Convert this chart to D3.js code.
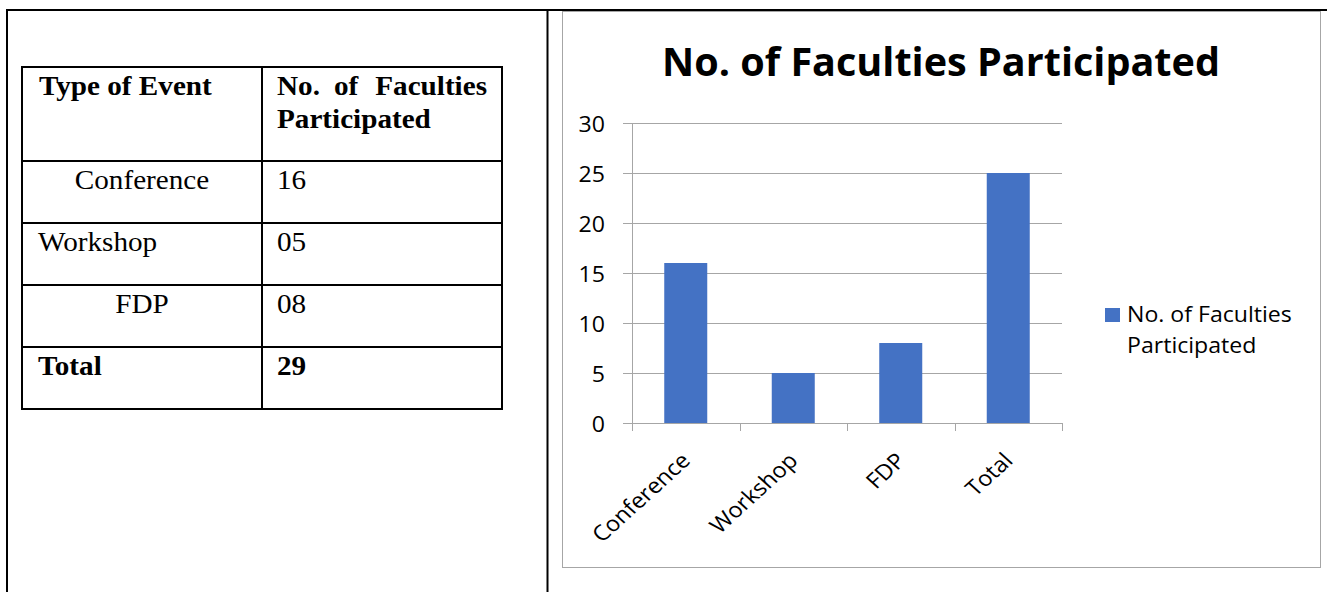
<!DOCTYPE html>
<html><head><meta charset="utf-8">
<script src="https://cdn.jsdelivr.net/npm/d3@7"></script>
<style>html,body{margin:0;padding:0;background:#fff;overflow:hidden}</style>
</head><body>
<svg id="c" width="1327" height="592"></svg>
<script>
// ---- data ----
const categories = ["Conference", "Workshop", "FDP", "Total"];
const values = [16, 5, 8, 25];
const yTicks = [0, 5, 10, 15, 20, 25, 30];
const chartTitle = "No. of Faculties Participated";
const seriesName = ["No. of Faculties", "Participated"];
const tableHeaderLeft = "Type of Event";
const tableHeaderRight = [["No.", "of", "Faculties"], ["Participated"]];
const tableEvents = ["Conference", "Workshop", "FDP", "Total"];
const tableCounts = ["16", "05", "08", "29"];

// ---- helpers ----
const svg = d3.select("#c");
function stext(g, str, x, y, opts) {
  const sx = opts.sx || 1.1, rot = opts.rot || 0;
  return g.append("text")
    .attr("transform", `translate(${x},${y}) scale(${sx},1) rotate(${rot})`)
    .attr("font-family", opts.family)
    .attr("font-size", opts.size)
    .attr("font-weight", opts.weight || "normal")
    .attr("text-anchor", opts.anchor || "start")
    .attr("dominant-baseline", opts.baseline || "auto")
    .attr("fill", "#000")
    .text(str);
}

// ---- page frame ----
const frame = svg.append("g").attr("stroke", "#000").attr("stroke-width", 2);
frame.append("line").attr("x1", 6).attr("x2", 1327).attr("y1", 10).attr("y2", 10);
frame.append("line").attr("x1", 7).attr("x2", 7).attr("y1", 9).attr("y2", 592);
frame.append("line").attr("x1", 547.5).attr("x2", 547.5).attr("y1", 9).attr("y2", 592);

// ---- left table ----
const tbl = svg.append("g");
const tX0 = 22, tX1 = 262, tX2 = 502;
const headTop = 67, headBottom = 161, rowH = 62;
const rowTops = tableEvents.map((_, i) => headBottom + i * rowH);
const tBottom = headBottom + tableEvents.length * rowH;
const tl = tbl.append("g").attr("stroke", "#000").attr("stroke-width", 2).attr("fill", "none");
tl.append("rect").attr("x", tX0).attr("y", headTop).attr("width", tX2 - tX0).attr("height", tBottom - headTop);
tl.append("line").attr("x1", tX1).attr("x2", tX1).attr("y1", headTop).attr("y2", tBottom);
rowTops.forEach(t => tl.append("line").attr("x1", tX0).attr("x2", tX2).attr("y1", t).attr("y2", t));

const serif = "'Liberation Serif','Times New Roman',serif";
const tOpt = {family: serif, size: 27, sx: 1.08};
stext(tbl, tableHeaderLeft, 39, headTop + 28, {...tOpt, weight: "bold"});
// justified header words: first at left edge, last flush right
const hdrPos = [[277, "start"], [334, "start"], [487, "end"]];
tableHeaderRight[0].forEach((w, i) => stext(tbl, w, hdrPos[i][0], headTop + 28, {...tOpt, weight: "bold", anchor: hdrPos[i][1]}));
stext(tbl, tableHeaderRight[1][0], 277, headTop + 61, {...tOpt, weight: "bold"});
const leftAlign = ["middle", "start", "middle", "start"];
tableEvents.forEach((ev, i) => {
  const bold = i === tableEvents.length - 1;
  const anchor = leftAlign[i];
  const x = anchor === "middle" ? (tX0 + tX1) / 2 : 38;
  stext(tbl, ev, x, rowTops[i] + 28, {...tOpt, anchor, weight: bold ? "bold" : "normal"});
  stext(tbl, tableCounts[i], 277, rowTops[i] + 28, {...tOpt, weight: bold ? "bold" : "normal"});
});

// ---- chart panel ----
const panel = svg.append("g");
panel.append("rect").attr("x", 562.5).attr("y", 11.5).attr("width", 758).attr("height", 556)
  .attr("fill", "#fff").attr("stroke", "#a6a6a6").attr("stroke-width", 1);

const sans = "'Open Sans','Noto Sans',sans-serif";
const cOpt = {family: sans, size: 21, sx: 1.1};

const plotL = 632, plotR = 1062, plotT = 123, plotB = 423;
const x = d3.scaleBand().domain(categories).range([plotL, plotR]).paddingInner(0.6).paddingOuter(0.3);
const y = d3.scaleLinear().domain([0, 30]).range([plotB, plotT]);

// title
stext(panel, chartTitle, 941, 76, {family: sans, size: 39, weight: "bold", anchor: "middle", sx: 1.015});

// gridlines
const grid = panel.append("g").attr("stroke", "#a6a6a6").attr("stroke-width", 1);
yTicks.forEach(t => {
  const yy = Math.round(y(t)) + 0.5;
  grid.append("line").attr("x1", plotL - 9).attr("x2", plotR).attr("y1", yy).attr("y2", yy);
});
// y axis line
grid.append("line").attr("x1", plotL + 0.5).attr("x2", plotL + 0.5).attr("y1", y(30)).attr("y2", y(0));
// x boundary ticks
const bounds = categories.map(c => x(c) - x.paddingOuter() * x.step()).concat([plotR]);
bounds.forEach(b => {
  const xx = Math.round(b) + 0.5;
  grid.append("line").attr("x1", xx).attr("x2", xx).attr("y1", y(0)).attr("y2", y(0) + 8);
});

// y labels
yTicks.forEach(t => stext(panel, String(t), 605, y(t), {...cOpt, anchor: "end", baseline: "central"}));

// bars
panel.append("g").selectAll("rect").data(categories).join("rect")
  .attr("x", c => x(c)).attr("width", x.bandwidth())
  .attr("y", (c, i) => y(values[i])).attr("height", (c, i) => y(0) - y(values[i]))
  .attr("fill", "#4472c4");

// x labels
categories.forEach(c => {
  stext(panel, c, x(c) + x.bandwidth() / 2 + 6, y(0) + 39, {...cOpt, size: 21.5, anchor: "end", rot: -45});
});

// legend
panel.append("rect").attr("x", 1105).attr("y", 308).attr("width", 15).attr("height", 14).attr("fill", "#4472c4");
stext(panel, seriesName[0], 1127, 322, cOpt);
stext(panel, seriesName[1], 1127, 353, cOpt);
</script>
</body></html>
